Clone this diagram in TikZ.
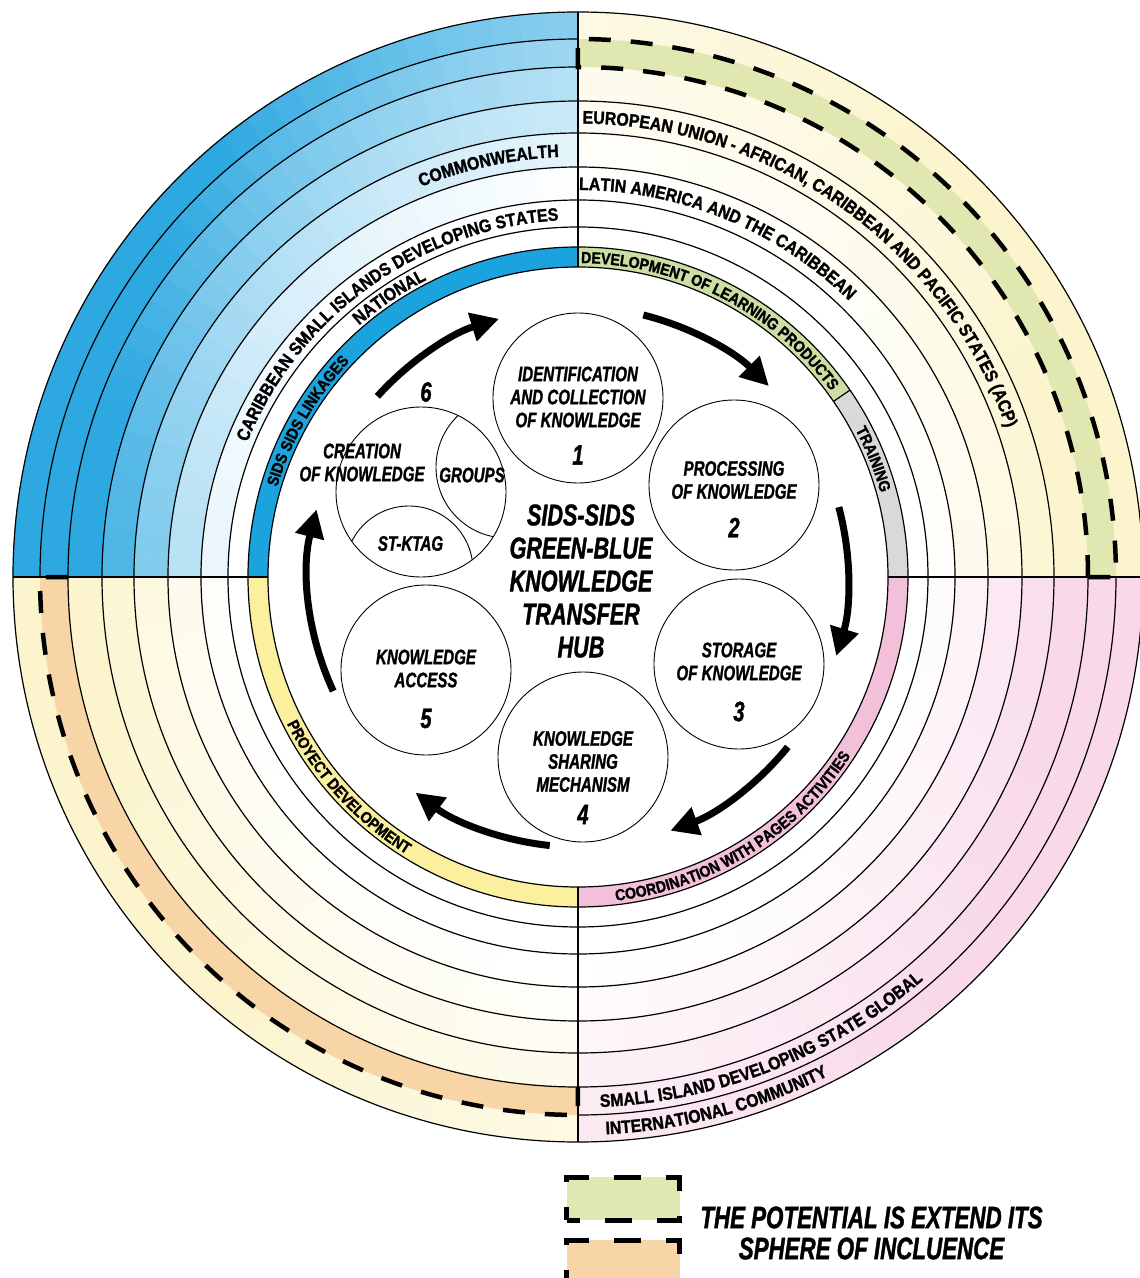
\documentclass[tikz,border=0pt]{standalone}
\usepackage{fontspec}
\newfontfamily\ringfont[FakeStretch=0.88, BoldFeatures={FakeBold=1.5}]{Liberation Sans}
\newfontfamily\hubfont[FakeStretch=0.72, BoldItalicFeatures={FakeBold=1.2}]{Liberation Sans}
\usetikzlibrary{arrows.meta,decorations.text,positioning,calc}

\definecolor{qblue}{RGB}{45,168,225}
\definecolor{qcream}{RGB}{251,244,205}
\definecolor{qpink}{RGB}{248,216,233}
\definecolor{bandgreen}{RGB}{224,231,176}
\definecolor{bandorange}{RGB}{247,213,166}
\definecolor{ringblue}{RGB}{27,163,222}
\definecolor{ringgreen}{RGB}{203,222,164}
\definecolor{ringgray}{RGB}{217,217,217}
\definecolor{ringpink}{RGB}{242,192,216}
\definecolor{ringyellow}{RGB}{250,240,158}

\newcommand{\ringlab}{\ringfont\bfseries\fontsize{18}{18}\selectfont}
\newcommand{\ringsmall}{\ringfont\bfseries\fontsize{16}{16}\selectfont}

\tikzset{
  ringline/.style={line width=1.2pt},
  hiband/.style={line width=4.5pt, dash pattern=on 22pt off 20pt},
  ringtext/.style={decorate, decoration={text along path, text align=center, text={#1}}},
  stage/.style={circle, draw, line width=0.9pt, minimum size=170pt, inner sep=0pt},
  stagetext/.style={align=center, inner sep=0pt, font=\hubfont\bfseries\itshape\fontsize{21}{23}\selectfont},
  stagenum/.style={inner sep=0pt, font=\hubfont\bfseries\itshape\fontsize{28}{28}\selectfont},
  hubtext/.style={align=center, inner sep=0pt, font=\hubfont\bfseries\itshape\fontsize{30}{33}\selectfont},
  flow/.style={line width=7pt, -{Triangle[length=28pt,width=28pt]}},
  keybox/.style={draw, minimum width=113pt, minimum height=43pt, inner sep=0pt, line width=5pt, dash pattern=on 27pt off 25pt, dash phase=13.5pt},
  keytext/.style={align=center, inner sep=0pt, font=\hubfont\bfseries\itshape\fontsize{31}{31}\selectfont}
}

\begin{document}
\begin{tikzpicture}[x=1pt,y=1pt]
    \def\Rout{565}   % outer edge of the rings
    \def\Rin{310}    % inner edge of the coloured ring
    \def\Rring{330}  % outer edge of the coloured ring
    \useasboundingbox (-578,-701) rectangle (562,577);

    % Quadrant backgrounds, white near the hub and coloured at the rim
    % (stronger towards the horizontal axis)
    \foreach \q/\col in {90/qblue, 0/qcream, -90/qpink, 180/qcream}{
        \foreach \r [remember=\r as \rp (initially 330)] in {350,377,410,444,476,510,538,565}{
            \foreach \s in {0,3,...,87}{
                \pgfmathsetmacro\aa{\q+\s}
                \pgfmathsetmacro\ab{\q+\s+3}
                \pgfmathsetmacro\am{\q+\s+1.5}
                \pgfmathsetmacro\rm{0.005*(\r+\rp)}
                \pgfmathsetmacro\u{abs(cos(\am))}
                \pgfmathtruncatemacro\pct{100*min(1,max(0,(\rm-3.9+0.4*\u)/(2.9-1.6*\u)))}
                \path[fill=\col!\pct!white, draw=\col!\pct!white, line width=0.6pt] (\aa:\rp) arc[start angle=\aa, end angle=\ab, radius=\rp] -- (\ab:\r) arc[start angle=\ab, end angle=\aa, radius=\r] -- cycle;
            }
        }
    }
    \fill[white] (0,0) circle (\Rring);

    % Sphere of influence bands
    \fill[bandgreen] (0:510) arc[start angle=0, end angle=90, radius=510] -- (90:538) arc[start angle=90, end angle=0, radius=538] -- cycle;
    \fill[bandorange] (180:510) arc[start angle=180, end angle=270, radius=510] -- (270:538) arc[start angle=270, end angle=180, radius=538] -- cycle;

    % Coloured ring
    \foreach \a/\b/\c in {90/180/ringblue, 34.5/90/ringgreen, 0/34.5/ringgray, -90/0/ringpink, 180/270/ringyellow}
        \fill[\c] (\a:\Rin) arc[start angle=\a, end angle=\b, radius=\Rin] -- (\b:\Rring) arc[start angle=\b, end angle=\a, radius=\Rring] -- cycle;

    % Rings and quadrant lines
    \foreach \r in {310,330,350,377,410,444,476,565}
        \draw[ringline] (0,0) circle (\r);
    \foreach \r in {510,538}{
        \draw[ringline] (90:\r) arc[start angle=90, end angle=180, radius=\r];
        \draw[ringline] (-90:\r) arc[start angle=-90, end angle=0, radius=\r];
    }
    \draw[ringline] (180:510) arc[start angle=180, end angle=270, radius=510];
    \foreach \a in {0,90,180,270}
        \draw[ringline] (\a:\Rin) -- (\a:\Rout);
    \draw[ringline] (34.5:\Rin) -- (34.5:\Rring);

    % Dashed outlines
    \draw[hiband] (0:510) arc[start angle=0, end angle=90, radius=510] -- (90:538) arc[start angle=90, end angle=0, radius=538] -- cycle;
    \draw[hiband] (180:510) -- (180:538) arc[start angle=180, end angle=270, radius=538] -- (270:510);

    % Ring labels, top half
    \path[ringtext={|\ringsmall|SIDS SIDS LINKAGES}] (178:314) arc[start angle=178, end angle=122, radius=314];
    \path[ringtext={|\ringlab|NATIONAL}] (150:333.5) arc[start angle=150, end angle=98, radius=333.5];
    \path[ringtext={|\ringlab|CARIBBEAN SMALL ISLANDS DEVELOPING STATES}] (170:357) arc[start angle=170, end angle=81, radius=357];
    \path[ringtext={|\ringlab|COMMONWEALTH}] (130:420.5) arc[start angle=130, end angle=74.5, radius=420.5];
    \path[ringtext={|\ringlab|EUROPEAN UNION - AFRICAN, CARIBBEAN AND PACIFIC STATES (ACP)}] (100:453.5) arc[start angle=100, end angle=8.6, radius=453.5];
    \path[ringtext={|\ringlab|LATIN AMERICA AND THE CARIBBEAN}] (100:387) arc[start angle=100, end angle=35.4, radius=387];
    \path[ringtext={|\ringsmall|DEVELOPMENT OF LEARNING PRODUCTS}] (95:314) arc[start angle=95, end angle=30.8, radius=314];
    \path[ringtext={|\ringsmall|TRAINING}] (33:314) arc[start angle=33, end angle=10.5, radius=314];

    % Ring labels, bottom half
    \path[ringtext={|\ringsmall|COORDINATION WITH PAGES ACTIVITIES}] (-95:326) arc[start angle=-95, end angle=-21.6, radius=326];
    \path[ringtext={|\ringsmall|PROYECT DEVELOPMENT}] (195:326) arc[start angle=195, end angle=250, radius=326];
    \path[ringtext={|\ringlab|SMALL ISLAND DEVELOPING STATE GLOBAL}] (-100:530.5) arc[start angle=-100, end angle=-37, radius=530.5];
    \path[ringtext={|\ringlab|INTERNATIONAL COMMUNITY}] (-100:558) arc[start angle=-100, end angle=-50.5, radius=558];

    % Knowledge cycle
    \node[stage] (c1) at (0,179) {};
    \node[stage] (c2) at (156,92) {};
    \node[stage] (c3) at (161,-87) {};
    \node[stage] (c4) at (5,-180) {};
    \node[stage] (c5) at (-152,-93) {};
    \node[stage] (c6) at (-157,85) {};
    \begin{scope}
        \clip (c6.center) circle (85);
        \draw[line width=0.9pt] ($(c6.center)+(86,25)$) circle (71);
        \draw[line width=0.9pt] ($(c6.center)+(-12,-78)$) circle (64);
    \end{scope}

    \node[stagetext] (t1) at ([yshift=1]c1.center) {IDENTIFICATION\\AND COLLECTION\\OF KNOWLEDGE};
    \node[stagenum] (n1) at ([yshift=-57]c1.center) {1};
    \node[stagetext] (t2) at ([yshift=5]c2.center) {PROCESSING\\OF KNOWLEDGE};
    \node[stagenum] (n2) at ([yshift=-42.5]c2.center) {2};
    \node[stagetext] (t3) at ([yshift=2.5]c3.center) {STORAGE\\OF KNOWLEDGE};
    \node[stagenum] (n3) at ([yshift=-47.5]c3.center) {3};
    \node[stagetext] (t4) at ([yshift=-4.5]c4.center) {KNOWLEDGE\\SHARING\\MECHANISM};
    \node[stagenum] (n4) at ([yshift=-57.5]c4.center) {4};
    \node[stagetext] (t5) at ([yshift=1.5]c5.center) {KNOWLEDGE\\ACCESS};
    \node[stagenum] (n5) at ([yshift=-48.5]c5.center) {5};
    \node[stagetext] (t6) at ([shift={(-59,29.5)}]c6.center) {CREATION\\OF KNOWLEDGE};
    \node[stagetext] (groups) at ([shift={(51,17)}]c6.center) {GROUPS};
    \node[stagetext] (stktag) at ([shift={(-10.5,-51.5)}]c6.center) {ST-KTAG};
    \node[stagenum] (n6) at ([shift={(5,100)}]c6.center) {6};

    \node[hubtext] (hub) at (3,-4) {SIDS-SIDS\\GREEN-BLUE\\KNOWLEDGE\\TRANSFER\\HUB};

    % Arrows between the stages
    \foreach \a/\b in {76/45, 15/-17, -39/-70, -96/-127, 205/165.5, 138/107}
        \draw[flow] (\a:270) arc[start angle=\a, end angle=\b, radius=270];

    % Legend
    \node[keybox, fill=bandgreen] (keygreen) at (45.5,-621.5) {};
    \node[keybox, fill=bandorange, below=15pt of keygreen] (keyorange) {};
    \node[keytext] (keytxt) at (293.5,-656) {THE POTENTIAL IS EXTEND ITS\\SPHERE OF INCLUENCE};
\end{tikzpicture}
\end{document}
